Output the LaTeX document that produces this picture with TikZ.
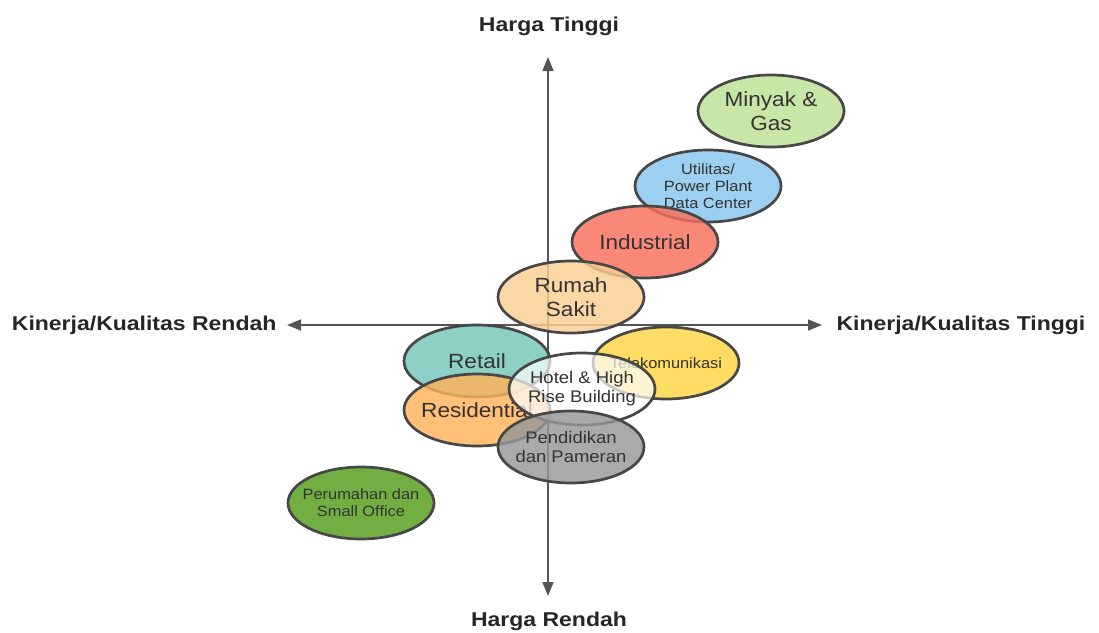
\documentclass[tikz,border=0pt]{standalone}
\usepackage{fontspec}
\setmainfont{Liberation Sans}[FakeStretch=1.1]
\newfontfamily\judulfont{Liberation Sans}[FakeStretch=1.15]
\usetikzlibrary{shapes.geometric,arrows.meta}
\definecolor{sumbu}{HTML}{555555}
\definecolor{garis}{HTML}{474747}
\definecolor{teks}{HTML}{333333}
\definecolor{cminyak}{HTML}{BBE095}
\definecolor{cutil}{HTML}{87C6ED}
\definecolor{cindus}{HTML}{F96E5A}
\definecolor{crs}{HTML}{FBCE92}
\definecolor{cretail}{HTML}{73C6B9}
\definecolor{ctelko}{HTML}{FFD442}
\definecolor{cresi}{HTML}{FFB25A}
\definecolor{cpendi}{HTML}{979797}
\definecolor{cperum}{HTML}{539E18}
\tikzset{
  sektor/.style={ellipse,draw=garis,line width=2.7pt,minimum width=146pt,minimum height=72pt,
    inner sep=0pt,fill opacity=0.82},
  isi/.style={align=center,text=teks,inner sep=0pt},
  besar/.style={isi,font=\fontsize{20.5}{24}\selectfont},
  sedang/.style={isi,font=\fontsize{16.8}{19}\selectfont},
  kecil/.style={isi,font=\fontsize{14.9}{17}\selectfont},
  judul/.style={font=\judulfont\fontsize{20}{23}\selectfont\bfseries,text=black!85},
  panah/.style={draw=sumbu,line width=1.6pt,-{Triangle[length=14pt,width=11pt]}}
}
\begin{document}
\begin{tikzpicture}[x=1pt,y=-1pt]
	\useasboundingbox (0,0) rectangle (1099,632);
	% sumbu
	\coordinate (pusat) at (548,325);
	\coordinate (atas) at (548,57);
	\coordinate (bawah) at (548,596);
	\coordinate (kiri) at (287,325);
	\coordinate (kanan) at (822,325);
	\draw[panah] (pusat) -- (atas);
	\draw[panah] (pusat) -- (bawah);
	\draw[panah] (pusat) -- (kiri);
	\draw[panah] (pusat) -- (kanan);
	\node[judul] (tinggi) at (549,26) {Harga Tinggi};
	\node[judul] (rendah) at (549,621) {Harga Rendah};
	\node[judul,anchor=east] (kualrendah) at (280,325) {Kinerja/Kualitas Rendah};
	\node[judul,anchor=west] (kualtinggi) at (833,325) {Kinerja/Kualitas Tinggi};
	% sektor
	\node[sektor,fill=cminyak,label={[besar]center:{Minyak \&\\Gas}}] (minyak) at (771,111) {};
	\node[sektor,fill=cutil,label={[kecil]center:{Utilitas/\\Power Plant\\Data Center}}] (utilitas) at (708,186) {};
	\node[sektor,fill=cindus,label={[besar]center:Industrial}] (industri) at (645,242) {};
	\node[sektor,fill=crs,label={[besar]center:{Rumah\\Sakit}}] (rumahsakit) at (571,297) {};
	\node[sektor,fill=cretail,label={[besar]center:Retail}] (retail) at (477,361) {};
	\node[sektor,fill=ctelko,label={[kecil]center:Telekomunikasi}] (telekom) at (666,363) {};
	\node[sektor,fill=cresi,label={[besar]center:Residential}] (residen) at (477,410) {};
	\node[sektor,fill=white,fill opacity=0.7,label={[sedang]center:{Hotel \& High\\Rise Building}}] (hotel) at (582,389) {};
	\node[sektor,fill=cpendi,label={[sedang]center:{Pendidikan\\dan Pameran}}] (pendidikan) at (571,447) {};
	\node[sektor,fill=cperum,label={[kecil]center:{Perumahan dan\\Small Office}}] (perumahan) at (361,503) {};
\end{tikzpicture}
\end{document}
